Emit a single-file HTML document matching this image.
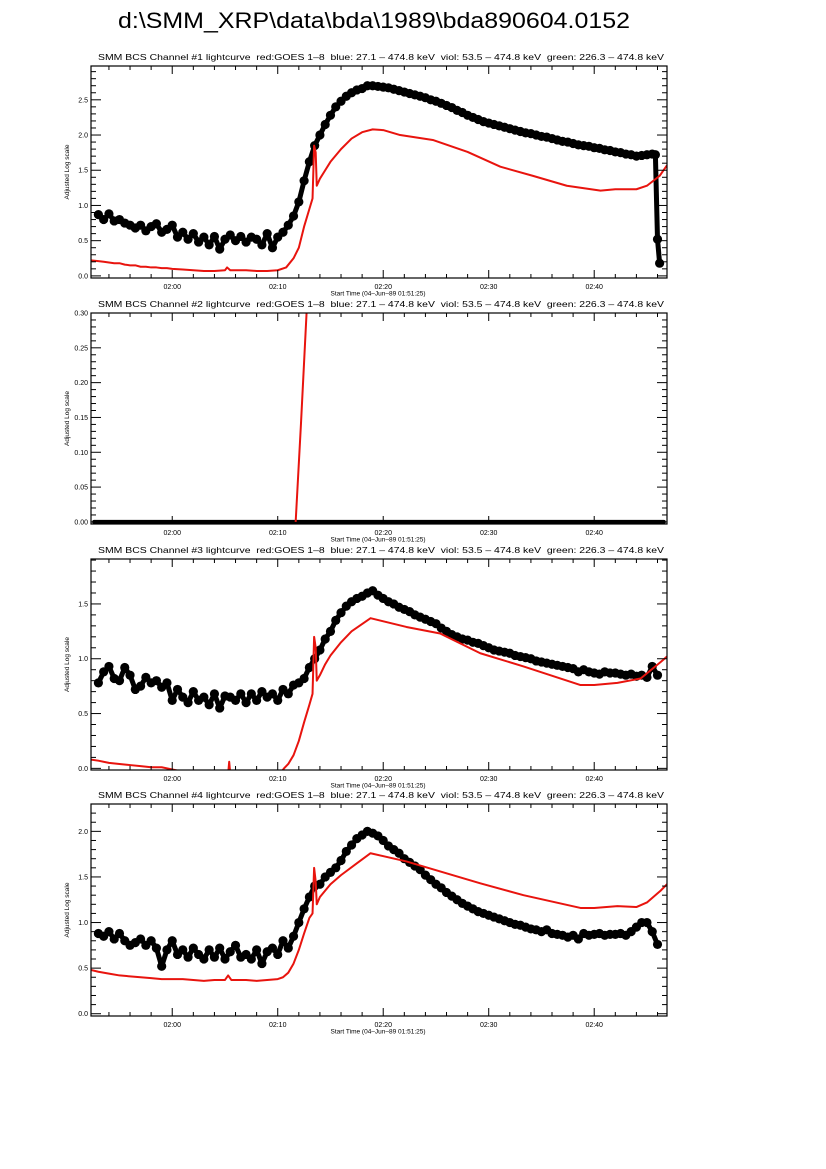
<!DOCTYPE html>
<html><head><meta charset="utf-8"><style>
html,body{margin:0;padding:0;background:#fff;}
svg{display:block;font-family:"Liberation Sans",sans-serif;}
</style></head><body>
<svg id="fig" width="826" height="1169" viewBox="0 0 826 1169" xmlns="http://www.w3.org/2000/svg">
<rect width="826" height="1169" fill="#fff"/>
<text x="118" y="28" font-size="22" fill="#000" textLength="512" lengthAdjust="spacingAndGlyphs">d:\SMM_XRP\data\bda\1989\bda890604.0152</text>
</svg>
<script>
// ---- data ----
const xTickMinutes = [0, 10, 20, 30, 40];
const xTickLabels = ["02:00", "02:10", "02:20", "02:30", "02:40"];
const blackStart = -7, blackStep = 0.5;

const ch1Black = [0.87,0.80,0.88,0.78,0.80,0.75,0.72,0.68,0.72,0.64,0.70,0.74,0.62,0.66,
0.72,0.55,0.62,0.52,0.60,0.48,0.55,0.44,0.56,0.38,0.52,0.58,0.50,0.56,
0.48,0.55,0.52,0.44,0.60,0.40,0.55,0.62,0.72,0.85,1.05,1.35,1.62,1.85,
2.00,2.15,2.28,2.40,2.48,2.55,2.60,2.64,2.66,2.70,2.70,2.69,2.68,2.67,
2.65,2.63,2.61,2.59,2.57,2.55,2.53,2.50,2.48,2.45,2.42,2.39,2.35,2.32,
2.28,2.25,2.22,2.19,2.17,2.15,2.13,2.11,2.09,2.07,2.05,2.03,2.02,2.00,
1.98,1.97,1.95,1.93,1.91,1.90,1.88,1.86,1.85,1.84,1.82,1.81,1.79,1.78,
1.76,1.75,1.73,1.72,1.70,1.71,1.72,1.73];
const ch1TailTimes = [45.8, 46.0, 46.2];
const ch1TailValues = [1.72, 0.52, 0.18];
const ch1RedTimes = [-7.7,-7,-6.5,-6,-5.5,-5,-4.5,-4,-3.5,-3,-2.5,-2,-1.5,-1,-0.5,0,1,2,3,4,5,5.2,5.5,6,7,8,9,10,10.8,11.5,12,12.5,13,13.3,13.45,13.6,13.7,14,14.5,15,16,17,18,19,20,21.6,24.7,28,31.1,34.2,37.4,40.6,42,44,45,46.2,46.9];
const ch1RedValues = [0.22,0.21,0.20,0.19,0.18,0.18,0.16,0.15,0.15,0.13,0.13,0.12,0.12,0.11,0.11,0.10,0.09,0.08,0.07,0.07,0.08,0.12,0.08,0.08,0.08,0.07,0.07,0.08,0.12,0.25,0.40,0.70,0.95,1.10,1.85,1.75,1.28,1.38,1.50,1.62,1.80,1.95,2.04,2.08,2.07,2.00,1.93,1.76,1.55,1.42,1.28,1.21,1.23,1.23,1.28,1.42,1.57];

const ch2BlackTimes = [-7.4,0,10,20,30,40,46.6];
const ch2BlackValues = [0,0,0,0,0,0,0];
const ch2RedTimes = [11.7,12.2,12.8,13.2];
const ch2RedValues = [0,0.14,0.32,0.5];

const ch3Black = [0.78,0.88,0.93,0.82,0.80,0.92,0.85,0.72,0.75,0.83,0.78,0.80,0.74,0.78,
0.62,0.72,0.65,0.60,0.70,0.62,0.65,0.58,0.68,0.55,0.66,0.65,0.62,0.68,
0.60,0.68,0.62,0.70,0.65,0.68,0.62,0.72,0.68,0.76,0.78,0.82,0.92,1.00,
1.08,1.18,1.25,1.35,1.42,1.48,1.52,1.55,1.57,1.60,1.62,1.58,1.55,1.52,
1.50,1.47,1.45,1.43,1.40,1.38,1.36,1.34,1.32,1.28,1.25,1.22,1.20,1.18,
1.17,1.15,1.14,1.12,1.10,1.08,1.07,1.06,1.05,1.03,1.02,1.01,1.00,0.98,
0.97,0.96,0.95,0.94,0.93,0.92,0.91,0.88,0.90,0.88,0.87,0.86,0.88,0.87,
0.87,0.86,0.85,0.86,0.84,0.85,0.83,0.93,0.85];
const ch3RedTimes = [-7.7,-7,-6,-5,-4,-3,-2,-1,0,2,4,5.3,5.4,5.5,7,9,10.2,10.6,11,11.5,12,12.5,13,13.3,13.45,13.6,13.7,14,14.5,15,16,17,18.8,22.2,25.4,29.2,33.3,38.7,40,42.2,44.4,46.3,46.9];
const ch3RedValues = [0.08,0.07,0.05,0.04,0.03,0.02,0.01,0.01,-0.01,-0.05,-0.05,-0.05,0.06,-0.05,-0.05,-0.05,-0.05,0.0,0.04,0.12,0.25,0.42,0.58,0.68,1.2,1.1,0.8,0.85,0.95,1.03,1.15,1.25,1.37,1.29,1.23,1.05,0.93,0.76,0.76,0.78,0.82,0.97,1.02];

const ch4Black = [0.88,0.85,0.90,0.82,0.88,0.80,0.75,0.78,0.82,0.75,0.80,0.72,0.52,0.70,
0.80,0.65,0.70,0.62,0.72,0.65,0.60,0.70,0.62,0.72,0.60,0.68,0.75,0.62,
0.65,0.60,0.70,0.55,0.68,0.72,0.65,0.80,0.72,0.85,1.00,1.15,1.28,1.40,
1.42,1.50,1.55,1.60,1.68,1.78,1.85,1.92,1.96,2.00,1.98,1.95,1.90,1.84,
1.80,1.76,1.70,1.66,1.62,1.58,1.52,1.47,1.42,1.38,1.33,1.29,1.25,1.21,
1.18,1.15,1.12,1.10,1.08,1.06,1.04,1.02,1.00,0.98,0.97,0.95,0.93,0.92,
0.90,0.92,0.88,0.87,0.86,0.84,0.86,0.82,0.88,0.86,0.87,0.88,0.86,0.87,
0.87,0.88,0.86,0.90,0.95,1.00,1.00,0.90,0.76];
const ch4RedTimes = [-7.7,-7,-6,-5,-4,-3,-2,-1,0,1,2,3,4,5,5.3,5.6,6,7,8,9,10,10.5,11,11.5,12,12.5,13,13.3,13.45,13.6,13.7,14,14.5,15,16,17.5,18.8,22.2,25.4,29.2,33.3,38.7,40,42.2,44,45,46.3,46.9];
const ch4RedValues = [0.48,0.46,0.44,0.42,0.41,0.40,0.39,0.38,0.38,0.38,0.37,0.36,0.37,0.37,0.42,0.37,0.37,0.37,0.36,0.37,0.38,0.40,0.45,0.55,0.70,0.88,1.05,1.10,1.60,1.45,1.20,1.28,1.35,1.42,1.52,1.65,1.76,1.67,1.56,1.43,1.30,1.16,1.16,1.18,1.17,1.22,1.35,1.42];

// ---- drawing ----
const NS = "http://www.w3.org/2000/svg";
const svg = document.getElementById("fig");
const XMIN = -7.7, XMAX = 46.9, LEFT = 91, RIGHT = 667;
function mk(tag, attrs, parent) {
  const e = document.createElementNS(NS, tag);
  for (const k in attrs) e.setAttribute(k, attrs[k]);
  (parent || svg).appendChild(e);
  return e;
}
function blackTimes(n) { const t = []; for (let i = 0; i < n; i++) t.push(blackStart + i * blackStep); return t; }

function panel(idx, top, bottom, ymin, ymax, major, minor, dec, black, redT, redV, opts) {
  const sx = t => LEFT + (t - XMIN) / (XMAX - XMIN) * (RIGHT - LEFT);
  const sy = v => bottom - (v - ymin) / (ymax - ymin) * (bottom - top);
  const g = mk("g", {});
  
  
  const cid = "clip" + idx;
  const cp = mk("clipPath", { id: cid }, g);
  mk("rect", { x: LEFT, y: top, width: RIGHT - LEFT, height: bottom - top }, cp);

  const title = mk("text", { x: 98, y: top - 6, "font-size": 8.6, textLength: 566, lengthAdjust: "spacingAndGlyphs", style: "white-space:pre" }, g);
  
  
  title.textContent = "SMM BCS Channel #" + idx + " lightcurve  red:GOES 1\u20138  blue: 27.1 \u2013 474.8 keV  viol: 53.5 \u2013 474.8 keV  green: 226.3 \u2013 474.8 keV";

  const plot = mk("g", { "clip-path": "url(#" + cid + ")" }, g);
  let bt, bv;
  if (opts && opts.flatBlack) { bt = opts.flatBlack[0]; bv = opts.flatBlack[1]; }
  else { bt = blackTimes(black.length); bv = black.slice(); if (opts && opts.tail) { bt = bt.concat(opts.tail[0]); bv = bv.concat(opts.tail[1]); } }
  const bl = mk("polyline", { points: bt.map((t, i) => sx(t) + "," + sy(bv[i])).join(" "), fill: "none", stroke: "#000", "stroke-width": opts && opts.flatBlack ? 4 : 5, "stroke-linejoin": "round", "stroke-linecap": "round" }, plot);
  
  
  if (!(opts && opts.flatBlack)) {
    bt.forEach((t, i) => {
      const c = mk("circle", { cx: sx(t), cy: sy(bv[i]), r: 4.6, fill: "#000" }, plot);
      
      
    });
  }
  const rl = mk("polyline", { points: redT.map((t, i) => sx(t) + "," + sy(redV[i])).join(" "), fill: "none", stroke: "#e8140e", "stroke-width": 2, "stroke-linejoin": "round" }, plot);
  
  

  const fr = mk("rect", { x: LEFT, y: top, width: RIGHT - LEFT, height: bottom - top, fill: "none", stroke: "#000", "stroke-width": 1.2 }, g);
  
  
  for (let m = -6; m <= 46; m += 2) {
    const x = sx(m), L = (m % 10 === 0) ? 8 : 4;
    mk("line", { x1: x, y1: bottom, x2: x, y2: bottom - L, stroke: "#000", "stroke-width": 1 }, g);
    mk("line", { x1: x, y1: top, x2: x, y2: top + L, stroke: "#000", "stroke-width": 1 }, g);
  }
  xTickLabels.forEach((lab, i) => {
    const t = mk("text", { x: sx(xTickMinutes[i]), y: bottom + 11, "font-size": 7, "text-anchor": "middle" }, g);
    
    
    t.textContent = lab;
  });
  const xl = mk("text", { x: 378, y: bottom + 17.5, "font-size": 6.5, "text-anchor": "middle" }, g);
  
  
  xl.textContent = "Start Time (04\u2013Jun\u201389 01:51:25)";
  const nMin = Math.round((ymax - 0) / minor);
  for (let k = 0; k <= nMin; k++) {
    const v = k * minor; if (v > ymax + 1e-9) break;
    const isMaj = Math.abs(v / major - Math.round(v / major)) < 1e-6;
    const y = sy(v), L = isMaj ? 10 : 5;
    mk("line", { x1: LEFT, y1: y, x2: LEFT + L, y2: y, stroke: "#000", "stroke-width": 1 }, g);
    mk("line", { x1: RIGHT, y1: y, x2: RIGHT - L, y2: y, stroke: "#000", "stroke-width": 1 }, g);
    if (isMaj) {
      const t = mk("text", { x: LEFT - 3, y: y + 2.5, "font-size": 7, "text-anchor": "end" }, g);
      
      
      t.textContent = v.toFixed(dec);
    }
  }
  const cy = (top + bottom) / 2;
  const yl = mk("text", { x: 0, y: 0, "font-size": 6.5, "text-anchor": "middle", transform: "translate(69," + cy + ") rotate(-90)" }, g);
  
  
  yl.textContent = "Adjusted Log scale";
}

panel(1, 66, 278, -0.03, 2.98, 0.5, 0.1, 1, ch1Black, ch1RedTimes, ch1RedValues, { tail: [ch1TailTimes, ch1TailValues] });
panel(2, 313, 524, -0.003, 0.30, 0.05, 0.01, 2, null, ch2RedTimes, ch2RedValues, { flatBlack: [ch2BlackTimes, ch2BlackValues] });
panel(3, 559, 770, -0.015, 1.91, 0.5, 0.1, 1, ch3Black, ch3RedTimes, ch3RedValues);
panel(4, 804, 1016, -0.025, 2.30, 0.5, 0.1, 1, ch4Black, ch4RedTimes, ch4RedValues);
</script>
</body></html>
